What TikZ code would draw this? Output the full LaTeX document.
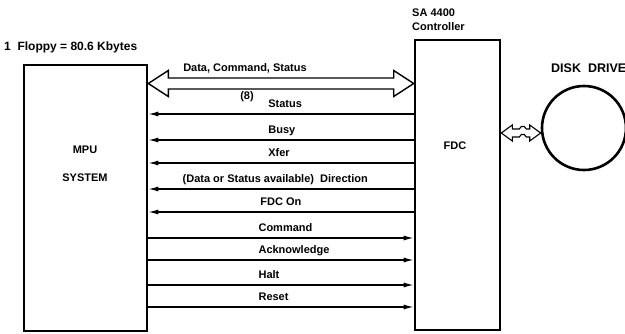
\documentclass[tikz,border=0pt]{standalone}
\usepackage{fontspec}
\setmainfont{Liberation Sans}
\usetikzlibrary{arrows.meta, calc}

\begin{document}
\begin{tikzpicture}[
      x=1pt, y=-1pt,
      every node/.style={font=\fontsize{11}{13}\selectfont\bfseries},
      unit/.style={draw, line width=2.6pt, inner sep=0pt},
      txt/.style={anchor=west, inner sep=0pt},
      sig/.style={line width=1.3pt},
      tofdc/.style={sig, -{Latex[length=10pt, width=5pt]}},
      tompu/.style={sig, {Latex[length=10pt, width=5pt]}-},
      lbl/.style={anchor=south west, inner sep=0pt, yshift=4pt,
                  text height=1.6ex, text depth=.3ex},
      bus/.style={line width=1.4pt, line join=miter}
    ]
      \useasboundingbox (0,0) rectangle (625,333);

      % MPU system
      \node[txt, font=\fontsize{12}{14}\selectfont\bfseries] (floppy) at (4,47) {1\ \ Floppy = 80.6 Kbytes};
      \node[unit, minimum width=123pt, minimum height=266pt] (mpu) at (85.5,198) {};
      \node[align=center] (mpuname) at (85,164) {MPU\\[15pt]SYSTEM};

      % controller
      \node[txt] (sa) at (412,13) {SA 4400};
      \node[txt] (ctrl) at (412,27) {Controller};
      \node[unit, minimum width=85pt, minimum height=290pt] (fdc) at (457.5,185) {};
      \node (fdcname) at (455,146) {FDC};

      % disk drive
      \node[txt, font=\fontsize{12.5}{14}\selectfont\bfseries] (dname) at (551,68) {DISK\ \ DRIVE};
      \node[unit, circle, minimum size=84pt] (disk) at (584,128) {};
      \coordinate (dl) at (fdc.east |- 0,133);
      \coordinate (dr) at (disk.west |- 0,133);
      \draw[bus, line width=1.1pt] (dl) -- ++(11,-8) -- ++(0,4) -- ++(7,0)
        -- ++(2,-2.5) -- ++(3,0) -- ++(2,2.5) -- ($(dr)+(-11,-4)$) -- ++(0,-4)
        -- (dr) -- ++(-11,8) -- ++(0,-4) -- ($(dl)+(25,4)$) -- ++(-2,-2.5)
        -- ++(-3,0) -- ++(-2,2.5) -- ($(dl)+(11,4)$) -- ++(0,4) -- cycle;

      % data bus
      \coordinate (busl) at (mpu.east |- 0,83.5);
      \coordinate (busr) at (fdc.west |- 0,83.5);
      \draw[bus] (busl) -- ++(20,-13) -- ++(0,7.5) -- ($(busr)+(-20,-5.5)$)
        -- ++(0,-7.5) -- (busr) -- ++(-20,13) -- ++(0,-7.5)
        -- ($(busl)+(20,5.5)$) -- ++(0,7.5) -- cycle;
      \node (buslbl) at (245,68) {Data, Command, Status};
      \node (buswidth) at (247,97) {(8)};

      % FDC -> MPU
      \draw[tompu] (mpu.east |- 0,114) -- node[lbl, pos=.45]{Status} (fdc.west |- 0,114);
      \draw[tompu] (mpu.east |- 0,140) -- node[lbl, pos=.45]{Busy} (fdc.west |- 0,140);
      \draw[tompu] (mpu.east |- 0,163) -- node[lbl, pos=.45]{Xfer} (fdc.west |- 0,163);
      \draw[tompu] (mpu.east |- 0,189) -- node[lbl, pos=.127]{(Data or Status available)\ \ Direction} (fdc.west |- 0,189);
      \draw[tompu] (mpu.east |- 0,212) -- node[lbl, pos=.42]{FDC On} (fdc.west |- 0,212);

      % MPU -> FDC
      \draw[tofdc] (mpu.east |- 0,238) -- node[lbl, pos=.413]{Command} (fdc.west |- 0,238);
      \draw[tofdc] (mpu.east |- 0,260) -- node[lbl, pos=.413]{Acknowledge} (fdc.west |- 0,260);
      \draw[tofdc] (mpu.east |- 0,285) -- node[lbl, pos=.413]{Halt} (fdc.west |- 0,285);
      \draw[tofdc] (mpu.east |- 0,307) -- node[lbl, pos=.413]{Reset} (fdc.west |- 0,307);
    \end{tikzpicture}
\end{document}
